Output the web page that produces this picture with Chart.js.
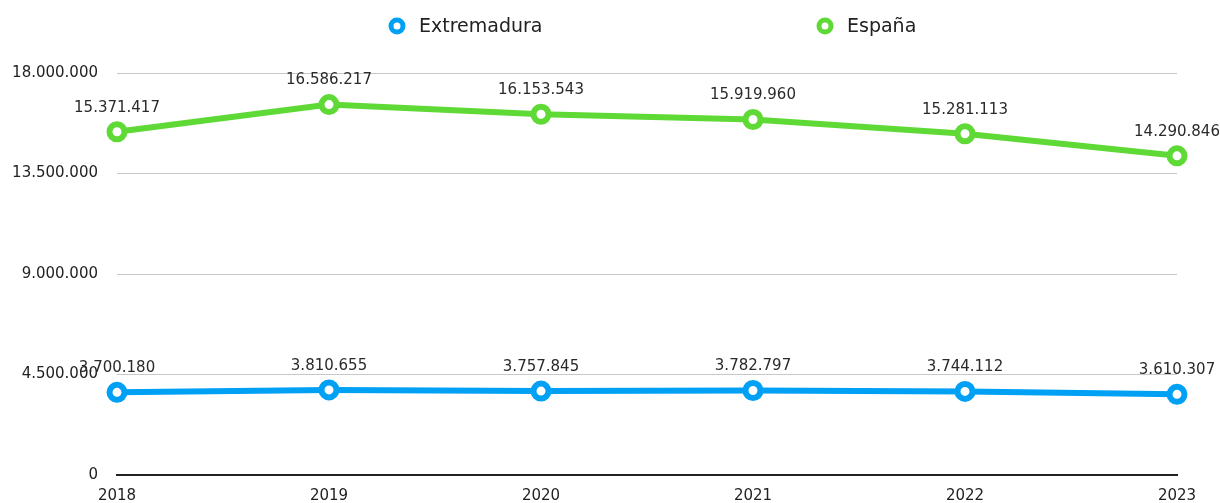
<!DOCTYPE html>
<html>
<head>
<meta charset="utf-8">
<script src="https://cdn.jsdelivr.net/npm/chart.js@4.4.1/dist/chart.umd.min.js"></script>
<style>
html,body{margin:0;padding:0;background:#fff;}
#wrap{width:1220px;height:503px;position:relative;}
</style>
</head>
<body>
<div id="wrap"><canvas id="c" width="1220" height="503"></canvas></div>
<script>
const categories = ['2018','2019','2020','2021','2022','2023'];
const extremadura = [3700180, 3810655, 3757845, 3782797, 3744112, 3610307];
const espana = [15371417, 16586217, 16153543, 15919960, 15281113, 14290846];
const seriesLabels = ['Extremadura', 'España'];
const yTicks = [0, 4500000, 9000000, 13500000, 18000000];

const BLUE = '#00a0f5';
const GREEN = '#5fd935';
const FONT = "'DejaVu Sans', sans-serif";

function fmt(v){ return Math.round(v).toString().replace(/\B(?=(\d{3})+(?!\d))/g, '.'); }

const labelPlugin = {
  id: 'pointLabels',
  afterDatasetsDraw(chart){
    const ctx = chart.ctx;
    ctx.save();
    ctx.font = "15px " + FONT;
    ctx.fillStyle = '#2a2a2a';
    ctx.textAlign = 'center';
    ctx.textBaseline = 'middle';
    chart.data.datasets.forEach((ds, i) => {
      const meta = chart.getDatasetMeta(i);
      meta.data.forEach((pt, j) => {
        ctx.fillText(fmt(ds.data[j]), pt.x, pt.y - 24);
      });
    });
    ctx.restore();
  }
};

const legendPlugin = {
  id: 'customLegend',
  afterDraw(chart){
    const ctx = chart.ctx;
    const pos = [397, 825];
    ctx.save();
    chart.data.datasets.forEach((ds, i) => {
      const x = pos[i], y = 26;
      ctx.beginPath();
      ctx.arc(x, y, 6, 0, Math.PI*2);
      ctx.fillStyle = '#fff';
      ctx.fill();
      ctx.lineWidth = 5;
      ctx.strokeStyle = ds.borderColor;
      ctx.stroke();
      ctx.font = "19px " + FONT;
      ctx.fillStyle = '#222';
      ctx.textAlign = 'left';
      ctx.textBaseline = 'middle';
      ctx.fillText(ds.label, x + 22, y + 1);
    });
    ctx.restore();
  }
};

new Chart(document.getElementById('c'), {
  type: 'line',
  data: {
    labels: categories,
    datasets: [
      { label: seriesLabels[0], data: extremadura, borderColor: BLUE, backgroundColor: '#fff',
        borderWidth: 6, pointRadius: 7.5, pointBorderWidth: 6, pointBackgroundColor: '#fff', pointBorderColor: BLUE, tension: 0 },
      { label: seriesLabels[1], data: espana, borderColor: GREEN, backgroundColor: '#fff',
        borderWidth: 6, pointRadius: 7.5, pointBorderWidth: 6, pointBackgroundColor: '#fff', pointBorderColor: GREEN, tension: 0 }
    ]
  },
  options: {
    responsive: false,
    animation: false,
    layout: { padding: { top: 73, right: 43, left: 0, bottom: 0 } },
    plugins: { legend: { display: false }, tooltip: { enabled: false } },
    scales: {
      x: {
        offset: false,
        grid: { display: false, drawTicks: false },
        border: { display: true, color: '#222', width: 2 },
        ticks: { font: { family: FONT, size: 15 }, color: '#222', padding: 12, maxRotation: 0 },
        afterFit(s){ s.height = 26; }
      },
      y: {
        min: 0, max: 18000000,
        afterBuildTicks(s){ s.ticks = yTicks.map(v => ({ value: v })); },
        grid: { color: '#c8c8c8', lineWidth: 1, drawTicks: false },
        border: { display: false },
        ticks: { font: { family: FONT, size: 15 }, color: '#222', padding: 19, callback: v => fmt(v) },
        afterFit(s){ s.width = 117; }
      }
    }
  },
  plugins: [labelPlugin, legendPlugin]
});
</script>
</body>
</html>
